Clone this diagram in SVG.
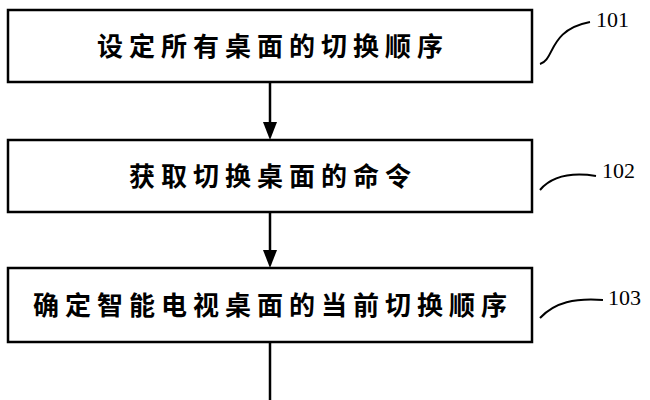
<svg xmlns="http://www.w3.org/2000/svg" width="650" height="400" viewBox="0 0 650 400">
<defs>
<style>
.box{fill:#fff;stroke:#000;stroke-width:2.5}
.t{font-family:"Noto Sans CJK SC",sans-serif;font-size:26px;font-weight:700;letter-spacing:6px;text-anchor:middle}
.n{font-family:"Liberation Serif",serif;font-size:22px}
.c{fill:none;stroke:#000;stroke-width:2}
</style>
</defs>
<rect width="650" height="400" fill="#fff"/>
<g id="n1"><rect class="box" x="8" y="10" width="524" height="72"/><text class="t" x="273" y="56">设定所有桌面的切换顺序</text></g>
<g id="n2"><rect class="box" x="8" y="140" width="524" height="72"/><text class="t" x="273" y="186">获取切换桌面的命令</text></g>
<g id="n3"><rect class="box" x="8" y="268" width="524" height="74"/><text class="t" x="273" y="315">确定智能电视桌面的当前切换顺序</text></g>
<g id="l1"><text class="n" x="596" y="27">101</text><path class="c" d="M540,64 C555,60 548,30 590,22"/></g>
<g id="l2"><text class="n" x="602" y="178">102</text><path class="c" d="M540,190 C552,176 570,172 596,176"/></g>
<g id="l3"><text class="n" x="608" y="305">103</text><path class="c" d="M540,318 C555,302 575,298 603,300"/></g>
<g id="connectors" stroke="#000" stroke-width="2.5" fill="none">
<line x1="270" y1="82" x2="270" y2="124"/><path d="M263,122 L277,122 L270,140 z" fill="#000" stroke="none"/>
<line x1="270" y1="212" x2="270" y2="252"/><path d="M263,250 L277,250 L270,268 z" fill="#000" stroke="none"/>
<line x1="270" y1="342" x2="270" y2="400"/>
</g>
</svg>
